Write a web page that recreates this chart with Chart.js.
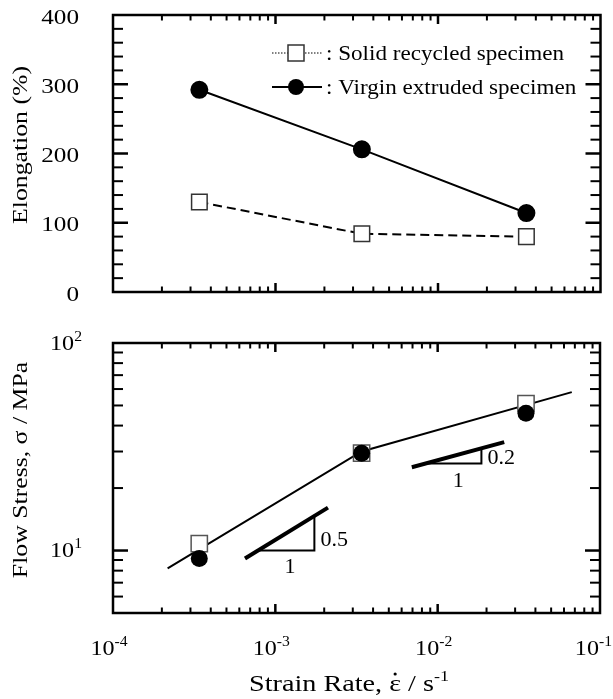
<!DOCTYPE html>
<html><head><meta charset="utf-8">
<script src="https://cdn.jsdelivr.net/npm/chart.js@4"></script>
<style>
html,body{margin:0;padding:0;background:#fff;}
#wrap{position:relative;width:613px;height:699px;overflow:hidden;}
canvas{position:absolute;left:0;}
</style></head><body>
<div id="wrap">
<canvas id="topc" width="613" height="330" style="top:0"></canvas>
<canvas id="botc" width="613" height="369" style="top:330px"></canvas>
</div>
<script>
// ---------- data ----------
const strainRate = [3.4e-4, 3.4e-3, 3.5e-2];
const elongRecycled = [130, 84, 80];
const elongVirgin = [292, 206, 114];
const stressRecycled = [10.8, 29.5, 51];
const stressVirgin = [9.15, 29.4, 45.9];
const fitRate = [2.17e-4, 3.4e-3, 6.7e-2];
const fitStress = [8.2, 30, 58];
const slope05Rate = [6.5e-4, 2.11e-3];
const slope05Stress = [9.15, 16.1];
const tri05Rate = [7.8e-4, 1.74e-3, 1.74e-3];
const tri05Stress = [10, 10, 14.6];
const slope02Rate = [6.93e-3, 2.57e-2];
const slope02Stress = [25.2, 33.3];
const tri02Rate = [8.6e-3, 1.86e-2, 1.86e-2];
const tri02Stress = [26.3, 26.3, 30.7];
const elongTickValues = [0, 100, 200, 300, 400];
const elongTickLabels = ['0', '100', '200', '300', '400'];
const rateTickValues = [1e-4, 1e-3, 1e-2, 1e-1];
const rateTickBase = ['10', '10', '10', '10'];
const rateTickExp = ['-4', '-3', '-2', '-1'];
const stressTickValues = [10, 100];
const stressTickExp = ['1', '2'];
const seriesNames = ['Solid recycled specimen', 'Virgin extruded specimen'];
const titleElong = 'Elongation (%)';
const titleStress = 'Flow Stress, \u03C3 / MPa';
const titleRateParts = ['Strain Rate, ', '\u03B5', ' / s'];
const titleRateExp = '-1';
const slopeLabels = ['0.5', '1', '0.2', '1'];

// ---------- helpers ----------
const FONT = '"Liberation Serif", "Times New Roman", serif';
const pts = (xs, ys) => xs.map((x, i) => ({x: x, y: ys[i]}));
// text in the reference is horizontally stretched; ctx._sx sets the factor
function stretchCtx(ctx) {
  const orig = CanvasRenderingContext2D.prototype.fillText;
  ctx._sx = 1;
  ctx.fillText = function (t, x, y) {
    this.save(); this.translate(x, y); this.scale(this._sx || 1, 1);
    orig.call(this, t, 0, 0); this.restore();
  };
}
function seg(ctx, x1, y1, x2, y2) { ctx.beginPath(); ctx.moveTo(x1, y1); ctx.lineTo(x2, y2); ctx.stroke(); }
function tw(ctx, t, size) { ctx.font = size + 'px ' + FONT; return ctx.measureText(t).width * (ctx._sx || 1); }

function drawFrame(chart, yTicks) {
  const {ctx, chartArea: a, scales: {x, y}} = chart;
  ctx.save();
  ctx.strokeStyle = '#000'; ctx.lineCap = 'butt';
  for (let e = -4; e <= -1; e++) {
    for (let k = 1; k <= 9; k++) {
      const v = k * Math.pow(10, e);
      if (v > 0.10001) break;
      const px = x.getPixelForValue(v);
      if (px < a.left + 1 || px > a.right - 1) continue;
      const L = k === 1 ? 9 : 5.5;
      ctx.lineWidth = k === 1 ? 2.5 : 2;
      seg(ctx, px, a.bottom, px, a.bottom - L);
      seg(ctx, px, a.top, px, a.top + L);
    }
  }
  yTicks.forEach(t => {
    const py = y.getPixelForValue(t.v);
    if (py < a.top + 1 || py > a.bottom - 1) return;
    const L = t.major ? 15 : 10;
    ctx.lineWidth = t.major ? 2.5 : 2;
    seg(ctx, a.left, py, a.left + L, py);
    seg(ctx, a.right, py, a.right - L, py);
  });
  ctx.lineWidth = 2.5;
  ctx.strokeRect(a.left, a.top, a.right - a.left, a.bottom - a.top);
  ctx.restore();
}

// base + superscript
function powLabel(ctx, px, py, base, exp, align, fs, fse, maxRight) {
  const wb = tw(ctx, base, fs), we = tw(ctx, exp, fse);
  let start = align === 'right' ? px - wb - we : px - (wb + we) / 2;
  if (maxRight !== undefined && start + wb + we > maxRight) start = maxRight - wb - we;
  ctx.textAlign = 'left'; ctx.textBaseline = 'middle';
  ctx.font = fs + 'px ' + FONT;
  ctx.fillText(base, start, py);
  ctx.font = fse + 'px ' + FONT;
  ctx.fillText(exp, start + wb, py - 7);
}

function rotTitle(ctx, text, cx, cy) {
  ctx.save();
  ctx._sx = 1.17;
  ctx.translate(cx, cy); ctx.rotate(-Math.PI / 2);
  ctx.font = '22px ' + FONT; ctx.fillStyle = '#000';
  ctx.textAlign = 'center'; ctx.textBaseline = 'middle';
  ctx.fillText(text, 0, 0);
  ctx.restore();
  ctx._sx = 1;
}

// ---------- top chart ----------
const elongYTicks = [];
for (let v = 0; v <= 400; v += 20) elongYTicks.push({v: v, major: v % 100 === 0});

const topPlugin = {
  id: 'topDeco',
  afterDatasetsDraw(chart) {
    drawFrame(chart, elongYTicks);
    const {ctx, chartArea: a, scales: {y}} = chart;
    ctx.save();
    ctx.fillStyle = '#000';
    // y tick labels
    ctx._sx = 1.17;
    ctx.font = '21.5px ' + FONT; ctx.textAlign = 'right'; ctx.textBaseline = 'middle';
    elongTickValues.forEach((v, i) => ctx.fillText(elongTickLabels[i], 79, y.getPixelForValue(v) + 3));
    ctx._sx = 1;
    rotTitle(ctx, titleElong, 21, 145);
    // legend
    const lx0 = a.left + 159, lx1 = a.left + 209, lm = a.left + 183;
    const r1 = 53, r2 = 87;
    ctx.strokeStyle = '#000';
    ctx.lineWidth = 1; ctx.setLineDash([1.5, 1.5]);
    seg(ctx, lx0, r1, lx1, r1);
    ctx.setLineDash([]);
    ctx.fillStyle = '#fff'; ctx.strokeStyle = '#333'; ctx.lineWidth = 1.5;
    ctx.fillRect(lm - 8, r1 - 8, 16, 16); ctx.strokeRect(lm - 8, r1 - 8, 16, 16);
    ctx.strokeStyle = '#000'; ctx.lineWidth = 2;
    seg(ctx, lx0, r2, lx1, r2);
    ctx.fillStyle = '#000';
    ctx.beginPath(); ctx.arc(lm, r2, 8, 0, Math.PI * 2); ctx.fill();
    ctx._sx = 1.05;
    ctx.font = '22px ' + FONT; ctx.textAlign = 'left'; ctx.textBaseline = 'middle';
    ctx.fillText(': ' + seriesNames[0], lx1 + 4, r1 + 1);
    ctx.fillText(': ' + seriesNames[1], lx1 + 4, r2 + 1);
    ctx._sx = 1;
    ctx.restore();
  }
};

const topCtx = document.getElementById('topc').getContext('2d');
stretchCtx(topCtx);
new Chart(topCtx, {
  type: 'line',
  data: {datasets: [
    {label: seriesNames[1], data: pts(strainRate, elongVirgin), borderColor: '#000', borderWidth: 2,
     pointStyle: 'circle', pointRadius: 8, pointBackgroundColor: '#000', pointBorderColor: '#000', tension: 0},
    {label: seriesNames[0], data: pts(strainRate, elongRecycled), borderColor: '#000', borderWidth: 2,
     borderDash: [9, 5], pointStyle: 'rect', pointRadius: 11, pointBackgroundColor: '#fff',
     pointBorderColor: '#333', pointBorderWidth: 1.5, tension: 0}
  ]},
  options: {
    responsive: false, animation: false, devicePixelRatio: 1,
    layout: {padding: {left: 0, right: 12, top: 15, bottom: 0}},
    plugins: {legend: {display: false}, tooltip: {enabled: false}},
    scales: {
      x: {type: 'logarithmic', min: 1e-4, max: 1e-1, ticks: {display: false},
          grid: {display: false, drawTicks: false}, border: {display: false},
          afterFit(s) { s.height = 38; }},
      y: {type: 'linear', min: 0, max: 400, ticks: {display: false, stepSize: 100},
          grid: {display: false, drawTicks: false}, border: {display: false},
          afterFit(s) { s.width = 113; }}
    }
  },
  plugins: [topPlugin]
});

// ---------- bottom chart ----------
const stressYTicks = [];
[5, 6, 7, 8, 9, 10, 20, 30, 40, 50, 60, 70, 80, 90, 100].forEach(v =>
  stressYTicks.push({v: v, major: v === 10 || v === 100}));

const botPlugin = {
  id: 'botDeco',
  afterDatasetsDraw(chart) {
    drawFrame(chart, stressYTicks);
    const {ctx, scales: {x, y}} = chart;
    ctx.save();
    ctx.fillStyle = '#000';
    ctx._sx = 1.12;
    stressTickValues.forEach((v, i) => powLabel(ctx, 82, y.getPixelForValue(v) + 1, '10', stressTickExp[i], 'right', 21.5, 14));
    rateTickValues.forEach((v, i) => powLabel(ctx, x.getPixelForValue(v) - 4, 319, rateTickBase[i], rateTickExp[i], 'center', 21.5, 14, 612));
    // x title with dotted epsilon and superscript
    ctx._sx = 1.2;
    const FT = 23.5;
    const w0 = tw(ctx, titleRateParts[0], FT), w1 = tw(ctx, titleRateParts[1], FT),
          w2 = tw(ctx, titleRateParts[2], FT), w3 = tw(ctx, titleRateExp, 15);
    const sx = 349 - (w0 + w1 + w2 + w3) / 2;
    const ty = 355;
    ctx.textAlign = 'left'; ctx.textBaseline = 'middle';
    ctx.font = FT + 'px ' + FONT;
    ctx.fillText(titleRateParts[0] + titleRateParts[1] + titleRateParts[2], sx, ty);
    ctx.beginPath(); ctx.arc(sx + w0 + w1 / 2, ty - 11, 1.6, 0, Math.PI * 2); ctx.fill();
    ctx.font = '15px ' + FONT;
    ctx.fillText(titleRateExp, sx + w0 + w1 + w2, ty - 8);
    ctx._sx = 1;
    rotTitle(ctx, titleStress, 21, 140);
    // slope annotations
    ctx._sx = 1.05;
    ctx.font = '21px ' + FONT; ctx.textBaseline = 'middle';
    const vx05 = x.getPixelForValue(tri05Rate[1]);
    const by05 = y.getPixelForValue(tri05Stress[1]);
    const hx05 = (x.getPixelForValue(tri05Rate[0]) + vx05) / 2;
    ctx.textAlign = 'left'; ctx.fillText(slopeLabels[0], vx05 + 6, by05 - 10);
    ctx.textAlign = 'center'; ctx.fillText(slopeLabels[1], hx05 + 4, by05 + 17);
    const vx02 = x.getPixelForValue(tri02Rate[1]);
    const by02 = y.getPixelForValue(tri02Stress[1]);
    const hx02 = (x.getPixelForValue(tri02Rate[0]) + vx02) / 2;
    ctx.textAlign = 'left'; ctx.fillText(slopeLabels[2], vx02 + 6, by02 - 5);
    ctx.textAlign = 'center'; ctx.fillText(slopeLabels[3], hx02 + 4, by02 + 18);
    ctx._sx = 1;
    ctx.restore();
  }
};

const botCtx = document.getElementById('botc').getContext('2d');
stretchCtx(botCtx);
const lineDs = (label, xs, ys, w) => ({label: label, data: pts(xs, ys), borderColor: '#000', borderWidth: w,
  pointRadius: 0, tension: 0, borderCapStyle: 'butt', borderJoinStyle: 'miter', fill: false});
new Chart(botCtx, {
  type: 'line',
  data: {datasets: [
    {label: seriesNames[1], data: pts(strainRate, stressVirgin), showLine: false, pointStyle: 'circle',
     pointRadius: 8.5, pointBackgroundColor: '#000', pointBorderColor: '#000', pointBorderWidth: 0},
    {label: seriesNames[0], data: pts(strainRate, stressRecycled), showLine: false, pointStyle: 'rect',
     pointRadius: 11.5, pointBackgroundColor: '#fff', pointBorderColor: '#555', pointBorderWidth: 1.5},
    lineDs('fit', fitRate, fitStress, 2),
    lineDs('slope 0.5', slope05Rate, slope05Stress, 4),
    lineDs('triangle 0.5', tri05Rate, tri05Stress, 2),
    lineDs('slope 0.2', slope02Rate, slope02Stress, 4),
    lineDs('triangle 0.2', tri02Rate, tri02Stress, 2)
  ]},
  options: {
    responsive: false, animation: false, devicePixelRatio: 1,
    layout: {padding: {left: 0, right: 12, top: 13, bottom: 0}},
    plugins: {legend: {display: false}, tooltip: {enabled: false}},
    scales: {
      x: {type: 'logarithmic', min: 1e-4, max: 1e-1, ticks: {display: false},
          grid: {display: false, drawTicks: false}, border: {display: false},
          afterFit(s) { s.height = 86; }},
      y: {type: 'logarithmic', min: 5, max: 100, ticks: {display: false},
          grid: {display: false, drawTicks: false}, border: {display: false},
          afterFit(s) { s.width = 113; }}
    }
  },
  plugins: [botPlugin]
});
</script>
</body></html>
